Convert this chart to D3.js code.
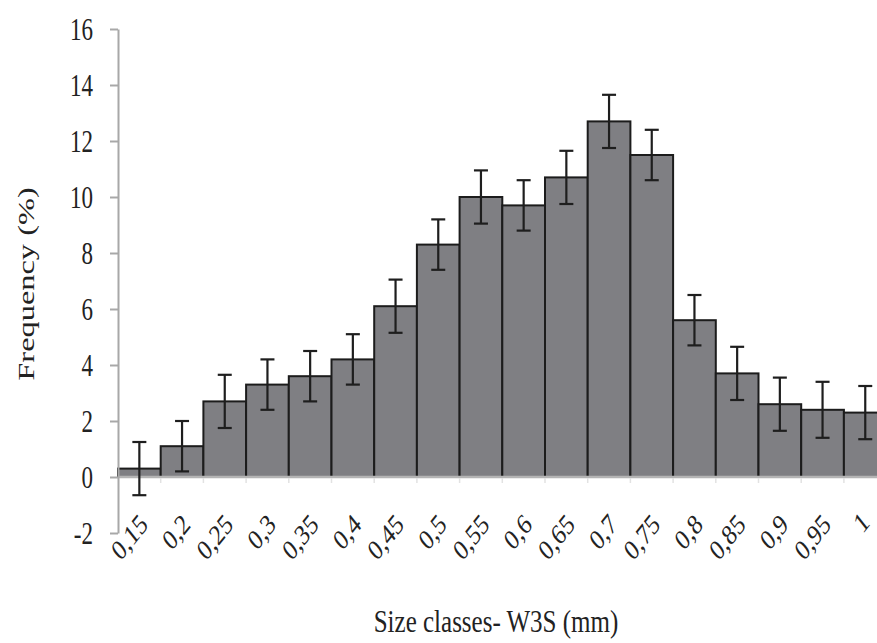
<!DOCTYPE html>
<html>
<head>
<meta charset="utf-8">
<script src="https://cdn.jsdelivr.net/npm/d3@7"></script>
<style>
  body { margin: 0; background: #fff; }
  svg text { fill: #222; }
</style>
</head>
<body>
<div id="chart"></div>
<script>
// classes de taille (mm) et fréquences
const sizeClasses = ["0,15", "0,2", "0,25", "0,3", "0,35", "0,4", "0,45", "0,5", "0,55",
  "0,6", "0,65", "0,7", "0,75", "0,8", "0,85", "0,9", "0,95", "1"];
const frequency = [0.3, 1.1, 2.7, 3.3, 3.6, 4.2, 6.1, 8.3, 10.0,
  9.7, 10.7, 12.7, 11.5, 5.6, 3.7, 2.6, 2.4, 2.3];
const errors = [0.95, 0.9, 0.95, 0.9, 0.9, 0.9, 0.95, 0.9, 0.95,
  0.9, 0.95, 0.95, 0.9, 0.9, 0.95, 0.95, 1.0, 0.95];
const yTicks = [-2, 0, 2, 4, 6, 8, 10, 12, 14, 16];

const width = 877;
const height = 643;
const stretch = 1.35; // la figure d'origine est étirée verticalement
const serif = "'Times New Roman', 'Liberation Serif', Tinos, 'DejaVu Serif', serif";

const svg = d3.select("#chart")
  .append("svg")
  .attr("width", width)
  .attr("height", height)
  .style("font-family", serif);

const x = d3.scaleBand()
  .domain(sizeClasses)
  .range([118, 886.6])
  .padding(0);

const y = d3.scaleLinear()
  .domain([-2, 16])
  .range([533, 29]);

// barres
svg.append("g")
  .selectAll("rect")
  .data(sizeClasses)
  .enter()
  .append("rect")
  .attr("x", d => x(d))
  .attr("y", (d, i) => y(frequency[i]))
  .attr("width", x.bandwidth())
  .attr("height", (d, i) => y(0) - y(frequency[i]))
  .attr("fill", "#7f7f83")
  .attr("stroke", "#1c1c1c")
  .attr("stroke-width", 2);

// ligne du zéro + petites graduations
svg.append("line")
  .attr("x1", 118).attr("x2", width)
  .attr("y1", y(0)).attr("y2", y(0))
  .attr("stroke", "#b4b4b4")
  .attr("stroke-width", 2.5);

svg.append("g")
  .selectAll("line")
  .data(sizeClasses)
  .enter()
  .append("line")
  .attr("x1", d => x(d) + x.bandwidth())
  .attr("x2", d => x(d) + x.bandwidth())
  .attr("y1", y(0) + 1)
  .attr("y2", y(0) + 6)
  .attr("stroke", "#e2e2e2")
  .attr("stroke-width", 1.5);

// axe Y
const yAxis = svg.append("g")
  .attr("transform", "translate(118,0)")
  .call(d3.axisLeft(y).tickValues(yTicks).tickSize(8).tickSizeOuter(0).tickFormat(d => String(d)))
  .attr("font-family", null);

yAxis.select(".domain").attr("stroke", "#a8a8a8").attr("stroke-width", 2);
yAxis.selectAll(".tick line").attr("stroke", "#a8a8a8").attr("stroke-width", 2);
yAxis.selectAll(".tick text")
  .attr("x", null)
  .attr("transform", `translate(-25,0) scale(1,${stretch})`)
  .attr("dy", "0.34em")
  .attr("font-size", 23)
  .style("font-family", serif)
  .attr("fill", "#222");

// axe X (étiquettes inclinées)
const xAxis = svg.append("g")
  .attr("transform", `translate(0,${y(0)})`)
  .call(d3.axisBottom(x).tickSize(0).tickSizeOuter(0))
  .attr("font-family", null);

xAxis.select(".domain").remove();
xAxis.selectAll(".tick text")
  .attr("y", null)
  .attr("dy", "0.35em")
  .attr("text-anchor", "end")
  .attr("transform", (d, i) => i === sizeClasses.length - 1
    ? `translate(0,40) scale(1,1.25) rotate(-45)`
    : `translate(4,42) scale(1,1.25) rotate(-45)`)
  .attr("font-size", 23)
  .style("font-family", serif)
  .attr("fill", "#222");

// barres d'erreur
const errG = svg.append("g")
  .attr("stroke", "#1e1e1e")
  .attr("stroke-width", 2.2);

sizeClasses.forEach((c, i) => {
  const cx = x(c) + x.bandwidth() / 2;
  const top = y(frequency[i] + errors[i]);
  const bot = y(frequency[i] - errors[i]);
  errG.append("line").attr("x1", cx).attr("x2", cx).attr("y1", top).attr("y2", bot);
  errG.append("line").attr("x1", cx - 7).attr("x2", cx + 7).attr("y1", top).attr("y2", top);
  errG.append("line").attr("x1", cx - 7).attr("x2", cx + 7).attr("y1", bot).attr("y2", bot);
});

// titres des axes
svg.append("text")
  .attr("transform", `translate(26,284) scale(1,${stretch}) rotate(-90)`)
  .attr("text-anchor", "middle")
  .attr("dy", "0.35em")
  .attr("font-size", 24)
  .style("font-family", serif)
  .text("Frequency (%)");

svg.append("text")
  .attr("transform", `translate(496,632) scale(1,1.3)`)
  .attr("text-anchor", "middle")
  .attr("font-size", 25)
  .style("font-family", serif)
  .text("Size classes- W3S (mm)");
</script>
</body>
</html>
